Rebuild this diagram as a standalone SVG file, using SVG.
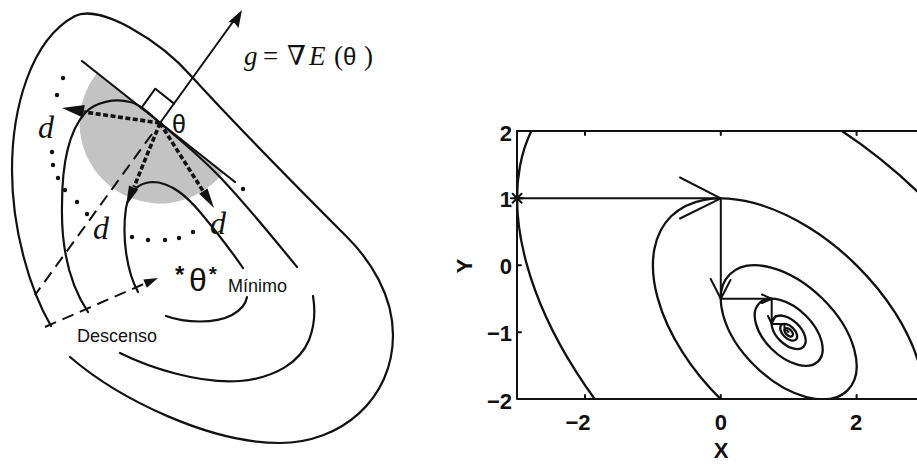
<svg xmlns="http://www.w3.org/2000/svg" width="917" height="464" viewBox="0 0 917 464">
<style>
.c{fill:none;stroke:#111;stroke-width:2.2;stroke-linecap:round}
.dot{fill:#111}
.thick{fill:none;stroke:#111;stroke-width:3.6;stroke-dasharray:5 2.5}
.dash{fill:none;stroke:#111;stroke-width:2;stroke-dasharray:12 7}
.ah{fill:#111;stroke:none}
.serif{font-family:"Liberation Serif","DejaVu Serif",serif;fill:#111}
.sans{font-family:"Liberation Sans",Arial,sans-serif;fill:#111}
.pl{fill:none;stroke:#111;stroke-width:2.3;vector-effect:non-scaling-stroke}
.ln{fill:none;stroke:#111;stroke-width:2;stroke-linecap:round;stroke-linejoin:round}
.ax{font-family:"Liberation Sans",Arial,sans-serif;font-weight:bold;font-size:22px;fill:#111}
</style>
<defs>
<clipPath id="frameClip"><rect x="517" y="131" width="400" height="268"/></clipPath>
</defs>
<rect width="917" height="464" fill="#fff"/>

<!-- LEFT DIAGRAM -->
<g id="left-diagram">
  <g id="shading">
    <path d="M97,73 A80,80 0 0 0 223,173 Z" fill="#c3c3c3"/>
  </g>
  <g id="contours">
    <path class="c" d="M51,326 C30,290 12,230 12,170 C12,110 30,40 75,16 C100,4 160,40 193,78 C225,113 300,190 347,237 C370,260 393,295 393,335 C393,400 340,443 280,443 C210,443 120,400 70,357"/>
    <path class="c" d="M88,312 C70,285 61,250 62,205 C62,160 70,130 85,113 C95,102 115,98 130,102 C140,104 150,114 160,123 C172,133 200,157 215,172 C240,197 275,240 297,267"/>
    <path class="c" d="M138,292 C126,270 122,235 126,208 C129,192 138,183 152,182 C172,182 188,198 200,212 C215,230 232,252 243,268"/>
    <path class="c" d="M120,353 C150,368 200,384 240,381 C275,378 300,362 309,340 C315,325 315,308 313,296"/>
    <path class="c" d="M166,316 C185,323 215,324 232,315 C241,310 246,303 247,297"/>
  </g>
  <g id="tangent">
    <path class="c" d="M82,61 L235,182"/>
    <path class="ln" d="M141.2,108.1 L155.3,88.7 L174.1,103.6"/>
  </g>
  <g id="dotted-circle">
    <circle class="dot" cx="63" cy="78" r="2.2"/>
    <circle class="dot" cx="57" cy="95" r="2.2"/>
    <circle class="dot" cx="52" cy="152" r="2.2"/>
    <circle class="dot" cx="53" cy="165" r="2.2"/>
    <circle class="dot" cx="58" cy="178" r="2.2"/>
    <circle class="dot" cx="65" cy="190" r="2.2"/>
    <circle class="dot" cx="77" cy="202" r="2.2"/>
    <circle class="dot" cx="87" cy="214" r="2.2"/>
    <circle class="dot" cx="132" cy="237" r="2.2"/>
    <circle class="dot" cx="148" cy="240" r="2.2"/>
    <circle class="dot" cx="165" cy="240" r="2.2"/>
    <circle class="dot" cx="179" cy="238" r="2.2"/>
    <circle class="dot" cx="193" cy="232" r="2.2"/>
    <circle class="dot" cx="243" cy="189" r="2.2"/>
  </g>
  <g id="connectors">
    <path class="ln" d="M160,123 L235,19"/>
    <path class="ah" d="M242,10 L238.5,28 L234.5,23 L228.5,22 Z"/>
    <path class="thick" d="M160,123 L84,112"/>
    <path class="ah" d="M62,108 L84.7,105 L82.9,117.5 Z"/>
    <path class="thick" d="M160,123 L134,187"/>
    <path class="ah" d="M126,206 L138.2,189.4 L129,185.6 Z"/>
    <path class="thick" d="M160,123 L203,191"/>
    <path class="ah" d="M214,208 L207.5,188.4 L199.1,193.8 Z"/>
    <path class="dash" d="M152,134 L35,295"/>
    <path class="dash" d="M45,327 L146,283"/>
    <path class="ah" d="M158,278 L146.9,287.7 L143.3,279.5 Z"/>
  </g>
  <g id="labels">
    <text class="serif" x="38" y="138" font-size="32" font-style="italic">d</text>
    <text class="serif" x="93" y="239" font-size="32" font-style="italic">d</text>
    <text class="serif" x="210" y="234" font-size="32" font-style="italic">d</text>
    <text class="sans" x="172" y="133" font-size="25">θ</text>
    <text class="serif" y="65" font-size="27"><tspan x="244" font-style="italic">g</tspan><tspan x="263">=</tspan><tspan x="287">∇</tspan><tspan x="309" font-style="italic">E</tspan><tspan x="334">(</tspan><tspan x="343" font-family="Liberation Sans, Arial, sans-serif" font-size="24">θ</tspan><tspan x="364">)</tspan></text>
    <text class="sans" x="175" y="283" font-size="24" font-weight="bold">*</text>
    <text class="sans" x="189" y="291" font-size="32">θ</text>
    <text class="sans" x="209" y="281" font-size="20" font-weight="bold">*</text>
    <text class="sans" x="228" y="292" font-size="18" fill="#222">Mínimo</text>
    <text class="sans" x="77" y="342" font-size="18" fill="#222">Descenso</text>
  </g>
</g>

<!-- RIGHT PLOT -->
<g id="right-plot">
  <g id="contour-plot" clip-path="url(#frameClip)">
    <g transform="matrix(67.9 0 0 -67 720.8 265.3)">
      <g transform="rotate(-45 1 -1)">
        <ellipse class="pl" cx="1" cy="-1" rx="4.899" ry="2.828"/>
        <ellipse class="pl" cx="1" cy="-1" rx="2.449" ry="1.414"/>
        <ellipse class="pl" cx="1" cy="-1" rx="1.2247" ry="0.7071"/>
        <ellipse class="pl" cx="1" cy="-1" rx="0.6124" ry="0.3536"/>
        <ellipse class="pl" cx="1" cy="-1" rx="0.3062" ry="0.1768"/>
        <ellipse class="pl" cx="1" cy="-1" rx="0.1531" ry="0.0884"/>
        <ellipse class="pl" cx="1" cy="-1" rx="0.0765" ry="0.0442"/>
      </g>
    </g>
  </g>
  <g id="frame">
    <path class="ln" d="M917,131 L517,131 L517,399 L917,399" stroke-linecap="butt"/>
    <path class="ln" stroke-width="1.5" d="M585,131 v4 M720.8,131 v4 M856.6,131 v4 M585,399 v-4 M720.8,399 v-4 M856.6,399 v-4 M517,198.3 h4 M517,265.3 h4 M517,332.3 h4"/>
  </g>
  <g id="descent-path">
    <path class="ln" d="M517.1,198.3 L720.8,198.3 L720.8,298.8 L771.7,298.8 L771.7,323.9 L784.5,323.9 L784.5,330.2 L787.6,330.2 L787.6,331.8 L788.5,331.8"/>
    <path class="ln" d="M680,177.5 L720.8,198.3 L680,218.5"/>
    <path class="ln" d="M710.7,279 L720.8,298.8 L730.5,280"/>
    <path class="ln" d="M762,294.5 L771.7,298.8 L762,303"/>
    <path class="ln" d="M768,316 L771.7,323.9 L775.5,316"/>
    <path class="ln" d="M511,198.3 h12 M517.1,192 v12 M512.6,193.8 l9,9 M521.6,193.8 l-9,9"/>
  </g>
  <g id="axis-labels">
    <text class="ax" x="512" y="141" text-anchor="end">2</text>
    <text class="ax" x="512" y="207" text-anchor="end">1</text>
    <text class="ax" x="512" y="274" text-anchor="end">0</text>
    <text class="ax" x="512" y="341" text-anchor="end">−1</text>
    <text class="ax" x="512" y="409" text-anchor="end">−2</text>
    <text class="ax" x="578" y="430" text-anchor="middle">−2</text>
    <text class="ax" x="720.8" y="430" text-anchor="middle">0</text>
    <text class="ax" x="856" y="430" text-anchor="middle">2</text>
    <text class="ax" x="721" y="458" text-anchor="middle" font-size="25">X</text>
    <text class="ax" transform="translate(472,266) rotate(-90)" text-anchor="middle" font-size="25">Y</text>
  </g>
</g>
</svg>
